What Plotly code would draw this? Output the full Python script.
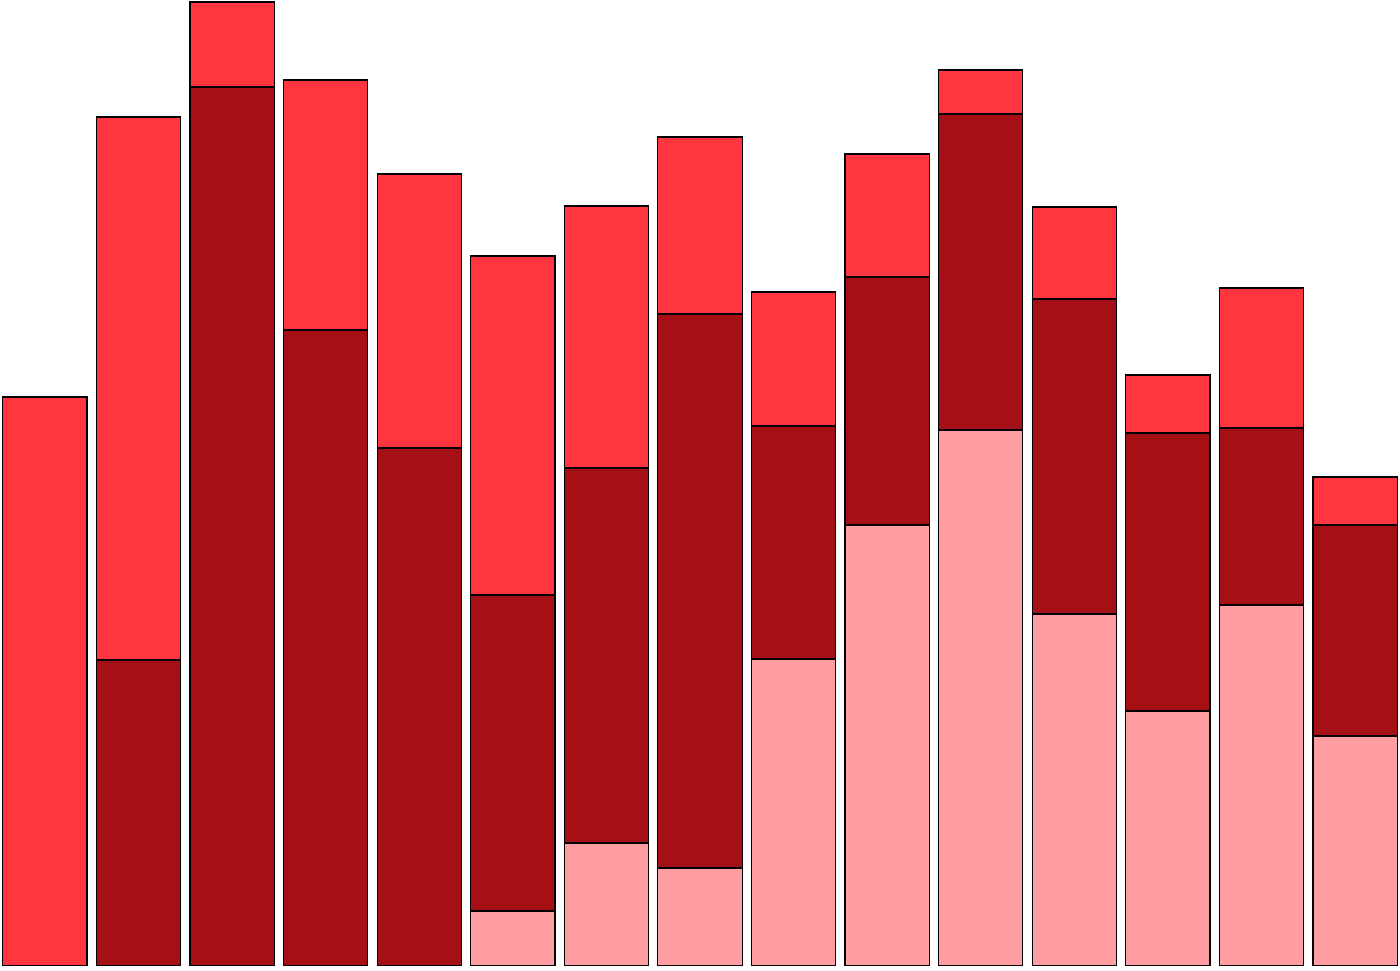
import plotly.graph_objects as go

categories = [str(i) for i in range(1, 16)]
pink = [0, 0, 0, 0, 0, 55, 123, 98, 307, 441, 536, 352, 255, 361, 230]
dark = [0, 306, 879, 636, 518, 316, 375, 554, 233, 248, 316, 315, 278, 177, 211]
red = [569, 543, 85, 250, 274, 339, 262, 177, 134, 123, 44, 92, 58, 140, 48]

line = dict(color="#000000", width=1.2)
fig = go.Figure()
fig.add_trace(go.Bar(x=categories, y=pink, marker=dict(color="#FF9DA2", line=line), name="A"))
fig.add_trace(go.Bar(x=categories, y=dark, marker=dict(color="#A51016", line=line), name="B"))
fig.add_trace(go.Bar(x=categories, y=red, marker=dict(color="#FF3640", line=line), name="C"))

fig.update_layout(
    barmode="stack", bargap=0.1, width=1400, height=971,
    margin=dict(l=0, r=0, t=0, b=5),
    paper_bgcolor="white", plot_bgcolor="white", showlegend=False,
    xaxis=dict(visible=False, range=[-0.48, 14.48]),
    yaxis=dict(visible=False, range=[0, 966]),
)
fig.write_html("out.html", config={"displayModeBar": False},
               post_script="document.body.style.margin='0';document.body.style.overflow='hidden';")
